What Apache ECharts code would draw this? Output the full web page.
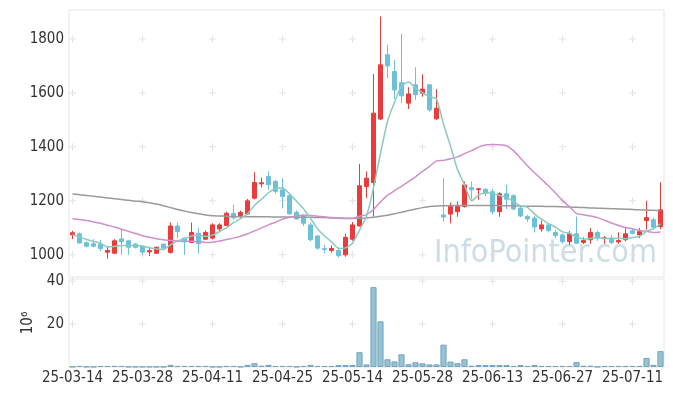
<!DOCTYPE html>
<html><head><meta charset="utf-8">
<script src="https://cdn.jsdelivr.net/npm/echarts@6/dist/echarts.min.js"></script>
<style>html,body{margin:0;padding:0;background:#fff}#c{width:673px;height:396px}</style>
</head><body><div id="c"></div>
<script>
const dates = ["25-03-14","25-03-17","25-03-18","25-03-19","25-03-20","25-03-21","25-03-24","25-03-25","25-03-26","25-03-27",
"25-03-28","25-03-31","25-04-01","25-04-02","25-04-03","25-04-04","25-04-07","25-04-08","25-04-09","25-04-10",
"25-04-11","25-04-14","25-04-15","25-04-16","25-04-17","25-04-18","25-04-21","25-04-22","25-04-23","25-04-24",
"25-04-25","25-04-28","25-04-29","25-04-30","25-05-02","25-05-07","25-05-08","25-05-09","25-05-12","25-05-13",
"25-05-14","25-05-15","25-05-16","25-05-19","25-05-20","25-05-21","25-05-22","25-05-23","25-05-26","25-05-27",
"25-05-28","25-05-29","25-05-30","25-06-02","25-06-04","25-06-05","25-06-09","25-06-10","25-06-11","25-06-12",
"25-06-13","25-06-16","25-06-17","25-06-18","25-06-19","25-06-20","25-06-23","25-06-24","25-06-25","25-06-26",
"25-06-27","25-06-30","25-07-01","25-07-02","25-07-03","25-07-04","25-07-07","25-07-08","25-07-09","25-07-10",
"25-07-11","25-07-14","25-07-15","25-07-16","25-07-17"];
const opens = [1074,1078,1045,1041,1040,1010,1006,1059,1052,1040,
1031,1011,1006,1040,1009,1107,1062,1046,1080,1058,
1062,1096,1109,1154,1146,1152,1210,1263,1290,1272,
1241,1219,1157,1144,1111,1070,1023,1016,1016,1000,
1058,1107,1253,1268,1503,1741,1679,1638,1562,1630,
1599,1630,1504,1148,1151,1160,1179,1249,1242,1243,
1234,1160,1226,1219,1173,1142,1136,1096,1111,1083,
1074,1049,1078,1046,1056,1083,1060,1062,1048,1056,
1089,1074,1127,1130,1105];
const closes = [1082,1044,1032,1032,1024,1016,1052,1049,1028,1028,
1010,1016,1028,1025,1107,1086,1048,1083,1042,1083,
1111,1111,1154,1137,1157,1200,1268,1267,1260,1235,
1216,1152,1133,1117,1056,1025,1020,1024,997,1065,
1111,1256,1284,1525,1704,1700,1611,1589,1596,1593,
1614,1537,1543,1140,1179,1179,1259,1241,1245,1228,
1160,1226,1206,1170,1144,1133,1103,1111,1090,1072,
1049,1078,1043,1053,1083,1062,1063,1046,1053,1078,
1080,1086,1138,1102,1167];
const highs = [1089,1083,1050,1058,1055,1030,1058,1095,1056,1044,
1037,1030,1031,1041,1120,1120,1064,1120,1099,1090,
1117,1117,1160,1185,1164,1207,1306,1286,1309,1278,
1284,1230,1165,1148,1120,1074,1037,1035,1028,1078,
1122,1337,1309,1670,1883,1778,1722,1819,1621,1695,
1669,1630,1614,1284,1194,1198,1272,1272,1248,1247,
1245,1232,1259,1225,1180,1148,1144,1127,1116,1093,
1080,1089,1142,1065,1099,1090,1070,1074,1083,1099,
1099,1099,1200,1138,1269];
const lows = [1058,1043,1027,1028,1014,986,1004,1000,1000,1024,
1000,996,1004,1015,1005,1062,1000,1044,1005,1055,
1057,1085,1106,1130,1133,1148,1205,1250,1241,1227,
1173,1148,1130,1107,1050,1019,1006,1008,990,993,
1052,1105,1210,1142,1500,1654,1577,1562,1540,1574,
1586,1530,1500,1123,1117,1141,1175,1206,1204,1218,
1150,1141,1169,1165,1140,1122,1083,1086,1083,1062,
1041,1037,1040,1040,1041,1052,1041,1040,1041,1050,
1076,1062,1093,1093,1095];
const volumes = [0.15,0.5,0.15,0.15,0.5,0.5,0.5,0.5,0.15,0.15,
0.15,0.15,0.15,0.15,1.0,0.5,0.5,0.5,0.5,0.5,
0.15,0.15,0.5,0.5,0.15,1.0,1.8,0.6,1.0,0.5,
0.5,0.5,0.15,0.5,1.0,0.5,0.5,0.5,0.9,0.9,
0.9,6.9,1.2,37.2,21.3,3.6,2.6,5.9,1.3,2.2,
1.7,1.2,1.2,10.4,2.5,1.8,3.6,0.6,0.9,0.9,
0.9,0.9,0.9,0.5,0.9,0.5,0.9,0.5,0.5,0.5,
0.5,0.5,2.3,0.6,0.6,0.15,0.5,0.5,0.5,0.5,
0.5,0.5,4.2,1.0,7.4];
const ma5 = [1075,1066,1057,1050,1043,1030,1031,1035,1034,1035,
1033,1026,1022,1021,1037,1052,1059,1070,1073,1068,
1073,1086,1100,1119,1134,1152,1183,1206,1230,1246,
1249,1226,1199,1171,1135,1097,1070,1048,1024,1026,
1043,1091,1143,1248,1376,1494,1565,1626,1640,1618,
1601,1586,1577,1485,1403,1316,1260,1200,1221,1230,
1227,1220,1213,1198,1181,1176,1151,1132,1116,1102,
1085,1080,1066,1059,1061,1064,1061,1061,1061,1060,
1064,1069,1087,1097,1115];
const ma20 = [1134,1131,1127,1122,1117,1110,1103,1095,1087,1079,
1071,1065,1060,1056,1053,1051,1050,1050,1049,1046,
1047,1051,1057,1062,1069,1078,1089,1100,1111,1121,
1132,1139,1144,1148,1146,1143,1141,1138,1136,1135,
1135,1143,1149,1168,1196,1221,1238,1254,1271,1289,
1309,1328,1348,1350,1356,1363,1375,1386,1399,1407,
1409,1408,1404,1386,1358,1330,1304,1280,1255,1229,
1201,1178,1153,1149,1144,1138,1128,1118,1109,1101,
1097,1090,1087,1083,1085];
const ma60 = [1225,1223,1220,1217,1214,1211,1208,1205,1202,1199,
1197,1193,1188,1182,1175,1168,1162,1157,1152,1148,
1145,1144,1143,1142,1141,1141,1141,1141,1141,1140,
1140,1140,1140,1139,1139,1138,1138,1137,1137,1136,
1136,1136,1137,1139,1143,1147,1152,1158,1164,1170,
1175,1179,1181,1182,1183,1183,1183,1183,1183,1183,
1183,1182,1182,1181,1181,1180,1180,1180,1179,1179,
1178,1177,1176,1175,1174,1173,1172,1171,1170,1169,
1168,1167,1166,1165,1164];
const priceTicks = [1000,1200,1400,1600,1800];
const volumeTicks = [20,40];
const labelEvery = 10;

const FONT = "'Liberation Sans Narrow','DejaVu Sans Condensed',sans-serif";
const candleData = dates.map((d,i)=>[opens[i],closes[i],lows[i],highs[i]]);
const labelDates = dates.filter((d,i)=>i%labelEvery===0);
const crossPrice = [], crossVol = [];
labelDates.forEach(d=>{priceTicks.forEach(t=>crossPrice.push([d,t])); volumeTicks.forEach(t=>crossVol.push([d,t]));});
const CROSS = 'path://M3,0H4V7H3ZM0,3H7V4H0Z';
const plain = v => String(v);

const chart = echarts.init(document.getElementById('c'), null, {renderer:'canvas'});
chart.setOption({
  animation:false,
  backgroundColor:'#fff',
  grid:[
    {left:69,right:9,top:10,height:267,show:true,borderColor:'#e6e6e6',borderWidth:1,backgroundColor:'transparent'},
    {left:69,right:9,top:279,height:88,show:true,borderColor:'#e6e6e6',borderWidth:1,backgroundColor:'transparent'}
  ],
  xAxis:[
    {type:'category',gridIndex:0,data:dates,boundaryGap:true,axisLine:{show:false},axisTick:{show:false},axisLabel:{show:false},splitLine:{show:false}},
    {type:'category',gridIndex:1,data:dates,boundaryGap:true,axisLine:{show:false},axisTick:{show:false},
     axisLabel:{interval:labelEvery-1,fontFamily:FONT,fontSize:15,color:'#333',margin:4},splitLine:{show:false}}
  ],
  yAxis:[
    {type:'value',gridIndex:0,min:918,max:1907,axisLine:{show:false},axisTick:{show:false},splitLine:{show:false},
     axisLabel:{showMinLabel:false,showMaxLabel:false,formatter:plain,fontFamily:FONT,fontSize:15,color:'#333',margin:5}},
    {type:'value',gridIndex:1,min:0,max:41,interval:20,axisLine:{show:false},axisTick:{show:false},splitLine:{show:false},
     name:'10⁶',nameLocation:'middle',nameRotate:90,nameGap:30,nameTextStyle:{fontFamily:FONT,fontSize:15,color:'#333'},
     axisLabel:{showMinLabel:false,showMaxLabel:false,formatter:plain,fontFamily:FONT,fontSize:15,color:'#333',margin:5}}
  ],
  graphic:[{type:'text',right:16,top:238,z:-1,silent:true,
    style:{text:'InfoPointer.com',font:"32px 'Liberation Sans Narrow','DejaVu Sans Condensed',sans-serif",fill:'rgba(170,198,214,0.6)'}}],
  series:[
    {type:'scatter',xAxisIndex:0,yAxisIndex:0,data:crossPrice,symbol:CROSS,symbolSize:7,itemStyle:{color:'#dcdcdc'},silent:true,z:1},
    {type:'scatter',xAxisIndex:1,yAxisIndex:1,data:crossVol,symbol:CROSS,symbolSize:7,itemStyle:{color:'#dcdcdc'},silent:true,z:1},
    {type:'candlestick',xAxisIndex:0,yAxisIndex:0,data:candleData,barWidth:5,
     itemStyle:{color:'#eb3b3b',color0:'#6cc0da',borderColor:'#eb3b3b',borderColor0:'#6cc0da',borderWidth:1},z:2},
    {type:'line',xAxisIndex:0,yAxisIndex:0,data:ma60,symbol:'none',smooth:0.2,lineStyle:{color:'#9a9a9a',width:1.5},z:3,silent:true},
    {type:'line',xAxisIndex:0,yAxisIndex:0,data:ma20,symbol:'none',smooth:0.2,lineStyle:{color:'#cf8fca',width:1.5},z:3,silent:true},
    {type:'line',xAxisIndex:0,yAxisIndex:0,data:ma5,symbol:'none',smooth:0.2,lineStyle:{color:'#8acbbf',width:1.5},z:3,silent:true},
    {type:'bar',xAxisIndex:1,yAxisIndex:1,data:volumes,barCategoryGap:'12%',
     itemStyle:{color:'#96c2d3',borderColor:'#74a5bb',borderWidth:1},z:2}
  ]
});
</script></body></html>
